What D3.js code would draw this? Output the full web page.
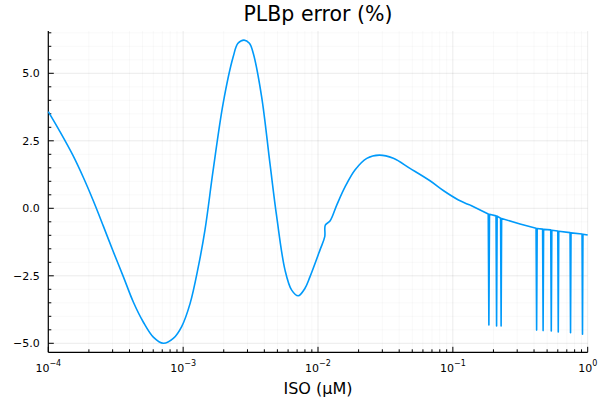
<!DOCTYPE html>
<!-- PLBp error against ISO concentration, log x axis. -->
<meta charset="utf-8">
<style>
 body { margin: 0; background: white; }
 text { font-family: "DejaVu Sans", sans-serif; fill: black; }
 .grid-major { stroke: #000; stroke-opacity: 0.1; stroke-width: 0.8px; }
 .grid-minor { stroke: #000; stroke-opacity: 0.04; stroke-width: 0.8px; }
 .axis-line { stroke: black; stroke-width: 1.2px; }
 .tick { stroke: black; stroke-width: 1px; }
 .series { fill: none; stroke: #009afa; stroke-width: 1.6px; stroke-linejoin: round; }
</style>

<svg class="chart"></svg>

<script src="https://cdn.jsdelivr.net/npm/d3@7"></script>

<script>

 // ISO concentration (µM)
 var isoX = [
     1.00e-4, 1.22e-4, 1.53e-4, 1.82e-4, 2.16e-4, 2.56e-4, 3.03e-4, 3.60e-4,
     4.27e-4, 5.06e-4, 6.01e-4, 7.13e-4, 8.45e-4, 9.75e-4, 1.125e-3, 1.295e-3,
     1.452e-3, 1.67e-3, 1.98e-3, 2.35e-3, 2.55e-3, 2.83e-3, 3.10e-3, 3.31e-3,
     3.82e-3, 4.40e-3, 4.94e-3, 5.69e-3, 6.38e-3, 7.14e-3, 8.01e-3, 8.73e-3,
     1.035e-2, 1.122e-2, 1.133e-2, 1.227e-2, 1.377e-2, 1.59e-2, 1.88e-2, 2.30e-2,
     2.85e-2, 3.62e-2, 4.81e-2, 6.77e-2, 8.60e-2, 0.110, 0.134,
     0.183, 0.185, 0.187,
     0.209, 0.211, 0.213,
     0.226, 0.228, 0.230,
     0.315,
     0.414, 0.418, 0.422,
     0.463, 0.467, 0.471,
     0.532, 0.537, 0.542,
     0.600, 0.605, 0.610,
     0.740, 0.746, 0.752,
     0.908, 0.915, 0.922,
     1.0
 ];

 // PLBp error (%)
 var errY = [
     3.58, 2.84, 1.94, 1.14, 0.27, -0.66, -1.60, -2.53,
     -3.47, -4.21, -4.77, -5.00, -4.82, -4.38, -3.53, -2.17,
     -0.80, 1.42, 3.89, 5.61, 6.11, 6.23, 6.11, 5.74,
     4.13, 1.67, -0.31, -2.28, -3.03, -3.24, -2.96, -2.53,
     -1.54, -1.05, -0.62, -0.47, 0.12, 0.80, 1.42, 1.85,
     1.97, 1.85, 1.48, 1.02, 0.64, 0.31, 0.12,
     -0.21, -4.32, -0.22,
     -0.28, -4.36, -0.29,
     -0.37, -4.36, -0.38,
     -0.58,
     -0.74, -4.51, -0.75,
     -0.77, -4.53, -0.78,
     -0.80, -4.54, -0.81,
     -0.84, -4.58, -0.85,
     -0.90, -4.61, -0.91,
     -0.95, -4.66, -0.96,
     -0.99
 ];

 // spikes start after this concentration; drawn with straight segments
 var spikeStart = 0.134;

 var xMajor = [1e-4, 1e-3, 1e-2, 1e-1, 1e0];
 var xExponents = ["\u22124", "\u22123", "\u22122", "\u22121", "0"];
 var yMajor = [-5.0, -2.5, 0.0, 2.5, 5.0];
 var yMajorLabels = ["\u22125.0", "\u22122.5", "0.0", "2.5", "5.0"];

 var width = 600, height = 400;
 var pLeft = 48.3, pRight = 587.7, pTop = 31, pBottom = 352.3;

 var svg = d3.select(".chart").attr("width", width).attr("height", height);

 var x = d3.scaleLog().domain([1e-4, 1]).range([pLeft, pRight]);
 var y = d3.scaleLinear().domain([-5.333, 6.567]).range([pBottom, pTop]);

 // minor positions: 2..9 in each decade, every 0.5 on y
 var xMinor = [];
 for (var d = -4; d < 0; d++)
     for (var m = 2; m <= 9; m++) xMinor.push(m * Math.pow(10, d));
 var yMinor = [];
 for (var v = -5.0; v <= 6.5; v += 0.5)
     if (yMajor.indexOf(v) < 0) yMinor.push(v);

 var grid = svg.append("g");
 grid.selectAll(".gx-minor").data(xMinor).enter().append("line")
     .attr("class", "grid-minor")
     .attr("x1", x).attr("x2", x).attr("y1", pTop).attr("y2", pBottom);
 grid.selectAll(".gy-minor").data(yMinor).enter().append("line")
     .attr("class", "grid-minor")
     .attr("x1", pLeft).attr("x2", pRight).attr("y1", y).attr("y2", y);
 grid.selectAll(".gx-major").data(xMajor).enter().append("line")
     .attr("class", "grid-major")
     .attr("x1", x).attr("x2", x).attr("y1", pTop).attr("y2", pBottom);
 grid.selectAll(".gy-major").data(yMajor).enter().append("line")
     .attr("class", "grid-major")
     .attr("x1", pLeft).attr("x2", pRight).attr("y1", y).attr("y2", y);

 // axis lines, left and bottom only, ticks pointing inward
 var ax = svg.append("g");
 ax.append("line").attr("class", "axis-line")
     .attr("x1", pLeft).attr("x2", pLeft).attr("y1", pTop).attr("y2", pBottom);
 ax.append("line").attr("class", "axis-line")
     .attr("x1", pLeft).attr("x2", pRight).attr("y1", pBottom).attr("y2", pBottom);

 ax.selectAll(".txm").data(xMajor).enter().append("line").attr("class", "tick")
     .attr("x1", x).attr("x2", x).attr("y1", pBottom).attr("y2", pBottom - 5.5);
 ax.selectAll(".txn").data(xMinor).enter().append("line").attr("class", "tick")
     .attr("x1", x).attr("x2", x).attr("y1", pBottom).attr("y2", pBottom - 3);
 ax.selectAll(".tym").data(yMajor).enter().append("line").attr("class", "tick")
     .attr("x1", pLeft).attr("x2", pLeft + 5.5).attr("y1", y).attr("y2", y);
 ax.selectAll(".tyn").data(yMinor).enter().append("line").attr("class", "tick")
     .attr("x1", pLeft).attr("x2", pLeft + 3).attr("y1", y).attr("y2", y);

 // tick labels
 ax.selectAll(".ylab").data(yMajor).enter().append("text")
     .attr("x", pLeft - 8.5).attr("y", y).attr("dy", "0.36em")
     .attr("text-anchor", "end").style("font-size", "11px")
     .text(function(d, i) { return yMajorLabels[i]; });

 var xl = ax.selectAll(".xlab").data(xMajor).enter().append("text")
     .attr("x", x).attr("y", pBottom + 19.5)
     .attr("text-anchor", "middle").style("font-size", "11px");
 xl.append("tspan").text("10");
 xl.append("tspan").attr("dy", -5.5).style("font-size", "8px")
     .text(function(d, i) { return xExponents[i]; });

 // the series: smooth part, then the spiky tail
 var pts = d3.zip(isoX, errY);

 var smooth = d3.line()
     .x(function(d) { return x(d[0]); })
     .y(function(d) { return y(d[1]); })
     .curve(d3.curveCatmullRom.alpha(0.5));

 var straight = d3.line()
     .x(function(d) { return x(d[0]); })
     .y(function(d) { return y(d[1]); });

 svg.append("path").attr("class", "series")
     .attr("d", smooth(pts.filter(function(p) { return p[0] <= spikeStart; })));
 svg.append("path").attr("class", "series")
     .attr("d", straight(pts.filter(function(p) { return p[0] >= spikeStart; })));

 // title and axis label
 svg.append("text").attr("x", (pLeft + pRight) / 2).attr("y", 20.5)
     .attr("text-anchor", "middle").style("font-size", "20.5px")
     .text("PLBp error (%)");

 svg.append("text").attr("x", (pLeft + pRight) / 2).attr("y", 394.3)
     .attr("text-anchor", "middle").style("font-size", "16px")
     .text("ISO (\u03bcM)");

</script>
